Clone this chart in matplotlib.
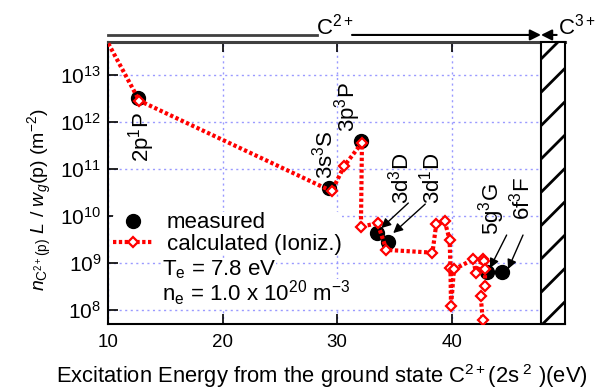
import matplotlib
matplotlib.use("Agg")
import matplotlib.pyplot as plt
import matplotlib.transforms as mtransforms
from matplotlib.patches import Rectangle
import numpy as np

plt.rcParams['font.family'] = ['Liberation Sans', 'DejaVu Sans']
plt.rcParams['mathtext.fontset'] = 'custom'
plt.rcParams['mathtext.rm'] = 'Liberation Sans'
plt.rcParams['mathtext.it'] = 'Liberation Sans:italic'
plt.rcParams['mathtext.bf'] = 'Liberation Sans:bold'
plt.rcParams['hatch.linewidth'] = 2.0

# ---- data ----
calc_energy = [10.0, 12.71, 29.52, 30.62, 32.16, 32.07, 33.52, 34.30, 38.32, 38.65,
               39.38, 39.82, 39.89, 39.94, 40.20, 41.89, 42.12, 42.71, 42.82, 42.91,
               42.91, 42.53, 42.71]
calc_density = [4.6e13, 2.8e12, 3.35e10, 1.16e11, 3.57e11, 5.9e9, 7.0e9, 1.9e9, 1.66e9, 6.7e9,
                7.9e9, 3.1e9, 7.9e8, 1.2e8, 7.3e8, 1.2e9, 6.0e8, 1.24e9, 1.1e9, 7.6e8,
                3.2e8, 2.0e8, 6.3e7]
meas_energy = [12.62, 29.31, 32.08, 33.45, 34.46, 43.08, 44.37]
meas_density = [3.2e12, 3.86e10, 3.85e11, 4.27e9, 2.83e9, 6.5e8, 6.5e8]

xticks = [10, 20, 30, 40]
yticks = [1e8, 1e9, 1e10, 1e11, 1e12, 1e13]
ion_limit = 47.8
xlim = (10, 49.9)
ylim = (5e7, 5e13)

# level labels: (text, x, y)
level_labels = [
    (r'2p$^1$P', 12.87, 4.7e11),
    (r'3s$^3$S', 28.93, 1.97e11),
    (r'3p$^3$P', 30.94, 2.06e12),
    (r'3d$^3$D', 35.57, 6.4e10),
    (r'3d$^1$D', 38.2, 6.4e10),
    (r'5g$^3$G', 43.52, 1.4e10),
    (r'6f$^3$F', 46.06, 2.3e10),
]
# arrows: (from x, from y, to x, to y)
arrows = [
    (36.21, 10**10.274, 33.85, 10**9.742),
    (37.69, 10**10.252, 34.89, 10**9.636),
    (44.80, 10**9.594, 43.34, 10**8.892),
    (46.23, 10**9.594, 44.92, 10**8.871),
]

fig = plt.figure(figsize=(6.0, 3.9), dpi=100)
ax = fig.add_axes([0.1805, 0.1685, 0.7612, 0.7245])
ax.set_xscale('linear')
ax.set_yscale('log')
ax.set_xlim(*xlim)
ax.set_ylim(*ylim)

ax.grid(True, which='major', color='#9a9aff', linestyle=(0, (1.5, 2.5)), linewidth=1.0)
ax.set_axisbelow(True)

n = len(calc_energy)
ax.plot(calc_energy, calc_density, color='red', linestyle=(0, (0.8, 0.6)), linewidth=3.0,
        marker='D', markersize=5.5, markerfacecolor='white', markeredgecolor='red',
        markeredgewidth=1.6, markevery=list(range(1, n)), zorder=4,
        label='calculated (Ioniz.)')
ax.plot(meas_energy, meas_density, linestyle='none', marker='o', markersize=10,
        color='black', zorder=3, label='measured')

# hatched region
rect = Rectangle((ion_limit, ylim[0]), xlim[1] - ion_limit, ylim[1] - ylim[0],
                 facecolor='white', edgecolor='black', hatch='/', linewidth=1.5, zorder=5,
                 clip_on=False)
ax.add_patch(rect)

ax.set_xticks(xticks)
ax.set_yticks(yticks)
ax.minorticks_off()
ax.tick_params(axis='both', which='major', direction='in', length=7, width=1.2,
               top=True, right=False)
ax.tick_params(axis='x', labelsize=13.5, pad=7)
ax.tick_params(axis='y', labelsize=15, pad=5)
for s in ['left', 'bottom']:
    ax.spines[s].set_linewidth(1.5)
    ax.spines[s].set_color('black')
ax.spines['top'].set_linewidth(2.2)
ax.spines['top'].set_color('#404040')
ax.spines['right'].set_visible(False)

fig.text(321.5 / 600, 6.5 / 390,
         r'Excitation Energy from the ground state C$^{2+}$(2s$^{\ 2}$ )(eV)',
         ha='center', va='baseline', fontsize=15.8)
fig.text(40 / 600, 1 - 200 / 390,
         r'$n_{\mathrm{C}^{2+}(\mathrm{p})}$ $L$ / $w_g$(p) (m$^{-2}$)',
         rotation=90, ha='center', va='center', fontsize=14)

for txt, x, y in level_labels:
    ax.text(x, y, txt, rotation=90, ha='center', va='center', fontsize=16, zorder=6)
for x0, y0, x1, y1 in arrows:
    ax.annotate('', xy=(x1, y1), xytext=(x0, y0),
                arrowprops=dict(arrowstyle='-|>', color='black', lw=1.0,
                                mutation_scale=14, shrinkA=0, shrinkB=0), zorder=6)

# legend
handles, labels = ax.get_legend_handles_labels()
leg = ax.legend(handles[::-1], labels[::-1], loc='upper left', bbox_to_anchor=(0.011, 0.396),
                frameon=True, fontsize=16, handlelength=1.8, handletextpad=0.6,
                labelspacing=0.02, borderpad=0.0, borderaxespad=0.0, framealpha=1.0)
leg.get_frame().set_edgecolor('none')
leg.set_zorder(5)

ax.text(14.66, 10**8.744, r'T$_\mathrm{e}$ = 7.8 eV', fontsize=16, ha='left', va='baseline',
        bbox=dict(facecolor='white', edgecolor='none', pad=0), zorder=5)
ax.text(14.66, 10**8.19, r'n$_\mathrm{e}$ = 1.0 x 10$^{20}$ m$^{-3}$', fontsize=16,
        ha='left', va='baseline', bbox=dict(facecolor='white', edgecolor='none', pad=0),
        zorder=5)

# top annotations
trans = mtransforms.blended_transform_factory(ax.transData, ax.transAxes)
ax.plot([10, 28.23], [1.024, 1.024], transform=trans, color='#404040', lw=2.0, clip_on=False)
ax.annotate('', xy=(ion_limit, 1.024), xytext=(31.29, 1.024), xycoords=trans, textcoords=trans,
            arrowprops=dict(arrowstyle='-|>', color='black', lw=1.5, mutation_scale=16,
                            shrinkA=0, shrinkB=0))
ax.annotate('', xy=(ion_limit, 1.024), xytext=(49.17, 1.024), xycoords=trans, textcoords=trans,
            arrowprops=dict(arrowstyle='-|>', color='black', lw=1.5, mutation_scale=16,
                            shrinkA=0, shrinkB=0))
ax.text(29.76, 1.024, r'C$^{2+}$', transform=trans, ha='center', va='baseline', fontsize=16)
ax.text(49.25, 1.024, r'C$^{3+}$', transform=trans, ha='left', va='baseline', fontsize=16)

fig.savefig('out.png', dpi=100)
